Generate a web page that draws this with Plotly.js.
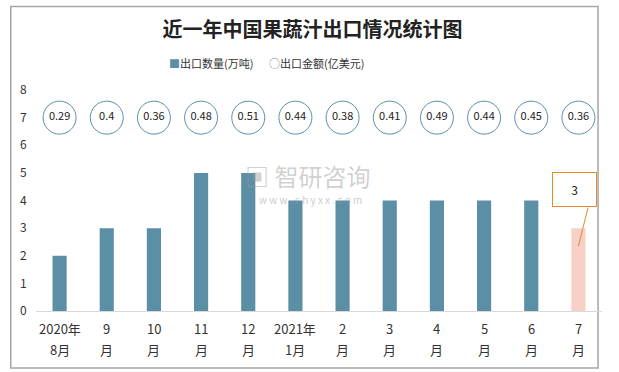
<!DOCTYPE html>
<html><head><meta charset="utf-8">
<script src="https://cdn.plot.ly/plotly-3.0.1.min.js"></script>
<style>body{margin:0;background:#fff}#c{width:619px;height:372px}</style>
</head><body><div id="c"></div>
<script>
var categories = ["2020年8月","9月","10月","11月","12月","2021年1月","2月","3月","4月","5月","6月","7月"];
var tickTop = ["2020年","9","10","11","12","2021年","2","3","4","5","6","7"];
var tickBottom = ["8月","月","月","月","月","1月","月","月","月","月","月","月"];
var volume = [2,3,3,5,5,4,4,4,4,4,4,3];
var value = [0.29,0.4,0.36,0.48,0.51,0.44,0.38,0.41,0.49,0.44,0.45,0.36];
var circleRow = 7;
var seriesNames = ['出口数量(万吨)','出口金额(亿美元)'];

var barColors = volume.map(function(v,i){return i===volume.length-1?'#F8D0C6':'#5B8FA6';});
var font = "Noto Sans CJK SC, sans-serif";

var traces = [
 {type:'bar', name:seriesNames[0], x:categories, y:volume, marker:{color:barColors}, width:0.3, hoverinfo:'none'},
 {type:'scatter', mode:'markers+text', name:seriesNames[1], x:categories,
  y:value.map(function(){return circleRow;}), text:value.map(String), textposition:'middle center',
  textfont:{size:11,color:'#222',family:font},
  marker:{symbol:'circle',size:33,color:'rgba(255,255,255,0)',line:{color:'#5B8FA6',width:1}}, hoverinfo:'none'}
];

var annotations = [];
categories.forEach(function(c,i){
  annotations.push({x:c, y:-0.081, xref:'x', yref:'paper', text:tickTop[i], showarrow:false, yanchor:'middle', font:{size:13,color:'#333'}});
  annotations.push({x:c, y:-0.172, xref:'x', yref:'paper', text:tickBottom[i], showarrow:false, yanchor:'middle', font:{size:13,color:'#333'}});
});
var last = categories.length-1;
annotations.push({x:categories[last], y:2.35, xref:'x', yref:'y', text:String(volume[last]), showarrow:true, arrowhead:0, arrowwidth:1, arrowcolor:'rgba(0,0,0,0)', ax:-4, ay:-57,
   bordercolor:'#E8892F', borderwidth:1, width:41, height:31, bgcolor:'#fff', font:{size:12,color:'#222'}});
annotations.push({x:categories[last], y:2.35, xref:'x', yref:'y', text:'', showarrow:true, arrowhead:0, arrowwidth:1, arrowcolor:'#E8892F', ax:10, ay:-40});
annotations.push({x:0.309, y:1.122, xref:'paper', yref:'paper', xanchor:'center', yanchor:'middle', text:'<span style="color:#5B8FA6">■</span>'+seriesNames[0], showarrow:false, font:{size:11,color:'#333'}});
annotations.push({x:0.496, y:1.122, xref:'paper', yref:'paper', xanchor:'center', yanchor:'middle', text:'<span style="color:#5B8FA6">○</span>'+seriesNames[1], showarrow:false, font:{size:11,color:'#333'}});
annotations.push({x:0.48, y:0.612, xref:'paper', yref:'paper', yanchor:'middle', text:'<b>▣</b> 智研咨询', showarrow:false, font:{size:24,color:'rgba(150,150,150,0.45)'}});
annotations.push({x:0.485, y:0.505, xref:'paper', yref:'paper', yanchor:'middle', text:'w w w . c h y x x . c o m', showarrow:false, font:{size:10,color:'rgba(150,150,150,0.5)'}});

var layout = {
 width:619, height:372, margin:{l:36,r:17,t:90,b:61},
 paper_bgcolor:'#fff', plot_bgcolor:'#fff',
 font:{family:font,size:12,color:'#333'},
 title:{text:'<b>近一年中国果蔬汁出口情况统计图</b>', x:0.505, xanchor:'center', y:0.92, yanchor:'middle', font:{size:20,color:'#222',family:font}},
 showlegend:false,
 xaxis:{type:'category', range:[-0.5,11.5], automargin:false, showgrid:false, showline:true, linecolor:'#d9d9d9', linewidth:1, ticks:'', showticklabels:false, fixedrange:true},
 yaxis:{range:[0,8], dtick:1, automargin:false, showgrid:false, zeroline:false, showline:false, ticks:'outside', ticklen:6, tickcolor:'rgba(0,0,0,0)', tickfont:{size:12,color:'#333'}},
 shapes:[{type:'rect', xref:'paper', yref:'paper', x0:-0.0446, x1:0.993, y0:-0.258, y1:1.378, line:{color:'#a6a6a6',width:1.5}, fillcolor:'rgba(0,0,0,0)', layer:'below'}],
 annotations:annotations
};
Plotly.newPlot('c', traces, layout, {displayModeBar:false, staticPlot:true});
</script></body></html>
